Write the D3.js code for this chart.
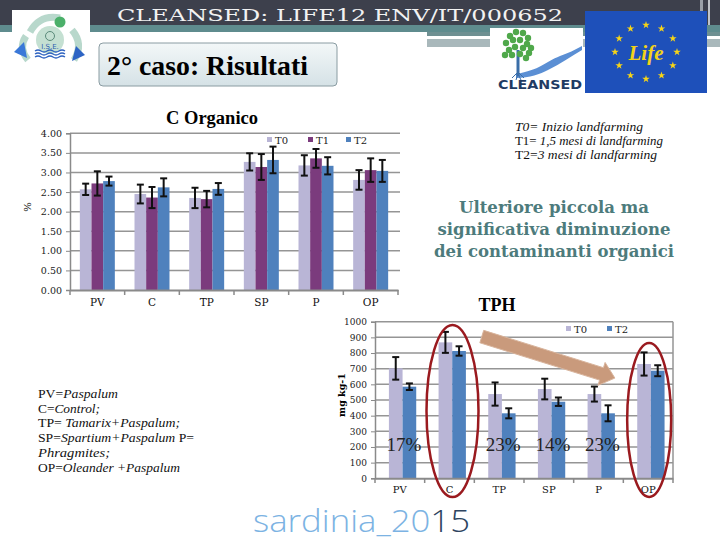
<!DOCTYPE html>
<html><head><meta charset="utf-8">
<script src="https://cdn.jsdelivr.net/npm/d3@7"></script>
<style>body{margin:0;background:#fff}svg{display:block}</style>
</head><body>
<svg id="s" width="720" height="540"></svg>
<script>
// ---------- DATA ----------
const categories = ["PV","C","TP","SP","P","OP"];
const cSeries = ["T0","T1","T2"];
const cT0 = [2.57,2.45,2.35,3.27,3.18,2.81];
const cT1 = [2.72,2.36,2.32,3.14,3.36,3.06];
const cT2 = [2.78,2.62,2.58,3.32,3.17,3.04];
const cErrT0 = [0.145,0.24,0.26,0.22,0.26,0.25];
const cErrT1 = [0.31,0.27,0.21,0.33,0.24,0.30];
const cErrT2 = [0.115,0.23,0.15,0.34,0.22,0.28];
const cTicks = [0,0.5,1,1.5,2,2.5,3,3.5,4];

const tphSeries = ["T0","T2"];
const tphT0 = [702,868,538,570,538,730];
const tphT2 = [585,813,415,489,415,687];
const tphErrT0 = [72,67,74,66,48,74];
const tphErrT2 = [21,30,32,27,51,35];
const tphTicks = [0,100,200,300,400,500,600,700,800,900,1000];
const reductions = ["17%","","23%","14%","23%",""];

const colors = {T0:"#b9b5d6", T1:"#7b3b7d", T2:"#4f81bd"};

const svg = d3.select("#s");
const serif = "'DejaVu Serif', serif";
const times = "'Liberation Serif', serif";

// ---------- HEADER ----------
svg.append("rect").attr("x",0).attr("y",0).attr("width",720).attr("height",25).attr("fill","#3d404c");
svg.append("rect").attr("x",700).attr("y",0).attr("width",3).attr("height",30).attr("fill","#9aa0a8");
svg.append("rect").attr("x",708).attr("y",0).attr("width",2).attr("height",30).attr("fill","#c0c4ca");
svg.append("rect").attr("x",0).attr("y",25).attr("width",720).attr("height",7).attr("fill","#5f8c8e");
svg.append("rect").attr("x",427).attr("y",32).attr("width",293).attr("height",4).attr("fill","#6f9092");
svg.append("rect").attr("x",427).attr("y",39).attr("width",293).attr("height",8).attr("fill","#a9b8bb");
svg.append("text").attr("x",117).attr("y",21).attr("textLength",446).attr("lengthAdjust","spacingAndGlyphs")
  .attr("font-family",serif).attr("font-size",17).attr("fill","#f2f2f2").text("CLEANSED: LIFE12 ENV/IT/000652");

// ISE logo
const ise = svg.append("g");
ise.append("rect").attr("x",12).attr("y",10).attr("width",78).attr("height",55).attr("fill","#fff");
ise.append("path").attr("d","M30,32 Q40,14 60,18").attr("fill","none").attr("stroke","#b8d8cc").attr("stroke-width",7);
ise.append("path").attr("d","M72,30 Q84,44 74,60").attr("fill","none").attr("stroke","#b8d8cc").attr("stroke-width",7);
ise.append("path").attr("d","M28,60 Q18,48 26,36").attr("fill","none").attr("stroke","#b8d8cc").attr("stroke-width",7);
ise.append("circle").attr("cx",60).attr("cy",22).attr("r",5.5).attr("fill","#4bb06a");
ise.append("circle").attr("cx",50).attr("cy",40).attr("r",14).attr("fill","#c4e0d2");
ise.append("circle").attr("cx",50).attr("cy",36).attr("r",4.5).attr("fill","none").attr("stroke","#5a8a7a").attr("stroke-width",1);
ise.append("text").attr("x",50).attr("y",49).attr("text-anchor","middle").attr("font-family","DejaVu Sans").attr("font-size",7).attr("fill","#2f5fb0").text("I.S.E.");
[51,54,57].forEach(y=>ise.append("path").attr("d",`M35,${y} q3,-2 6,0 t6,0 t6,0 t6,0 t6,0`).attr("fill","none").attr("stroke","#2f63c0").attr("stroke-width",1.4));
ise.append("path").attr("d","M14,52 L24,42 L27,58 Z").attr("fill","#3a78d8");
ise.append("path").attr("d","M76,46 L85,55 L72,61 Z").attr("fill","#2d64c4");

// Title box
const g0 = svg.append("defs").append("linearGradient").attr("id","tb").attr("x1",0).attr("y1",0).attr("x2",0).attr("y2",1);
g0.append("stop").attr("offset","0").attr("stop-color","#f3f7f8");
g0.append("stop").attr("offset","1").attr("stop-color","#d5e2e6");
svg.append("rect").attr("x",99).attr("y",43).attr("width",238).attr("height",43).attr("rx",4)
  .attr("fill","url(#tb)").attr("stroke","#8a9ca2").attr("stroke-width",1);
svg.append("text").attr("x",107).attr("y",75).attr("textLength",201).attr("lengthAdjust","spacingAndGlyphs")
  .attr("font-family",times).attr("font-weight","bold").attr("font-size",28).attr("fill","#000").text("2° caso: Risultati");

// CleanSED logo
const cl = svg.append("g");
cl.append("rect").attr("x",490).attr("y",28).attr("width",93).attr("height",66).attr("fill","#fff");
cl.append("path").attr("d","M516,74 C540,70 545,62 560,56 C568,53 575,50 582,46 L582,50 C572,56 560,64 548,70 C540,74 530,78 516,78 Z").attr("fill","#5b8fd4");
cl.append("line").attr("x1",518).attr("y1",50).attr("x2",518).attr("y2",76).attr("stroke","#3a6ea8").attr("stroke-width",3);
cl.append("path").attr("d","M518,72 l-6,6 M518,72 l6,6 M518,74 l-2,6 M518,74 l3,6").attr("stroke","#3a6ea8").attr("stroke-width",1);
const leaf = [[510,36],[516,32],[523,33],[528,38],[506,43],[513,40],[520,40],[527,44],[531,48],[509,50],[515,47],[523,48],[529,53],[505,55],[512,55],[520,54],[526,58]];
leaf.forEach(p=>cl.append("circle").attr("cx",p[0]).attr("cy",p[1]).attr("r",3.2).attr("fill","#4fa84a"));
cl.append("text").attr("x",498).attr("y",89).attr("textLength",84).attr("lengthAdjust","spacingAndGlyphs")
  .attr("font-family","'DejaVu Sans', sans-serif").attr("font-weight","bold").attr("font-size",13).attr("fill","#1f3b63").text("CLEANSED");

// EU Life flag
const eu = svg.append("g");
eu.append("rect").attr("x",585).attr("y",11).attr("width",122).attr("height",82).attr("fill","#1e50ba");
const star = d3.symbol(d3.symbolStar).size(18);
d3.range(12).forEach(i=>{
  const a = i/12*2*Math.PI;
  eu.append("path").attr("d",star).attr("fill","#f7d417")
    .attr("transform",`translate(${646+31*Math.sin(a)},${52-27*Math.cos(a)})`);
});
eu.append("text").attr("x",646).attr("y",60).attr("text-anchor","middle").attr("font-family",times)
  .attr("font-style","italic").attr("font-weight","bold").attr("font-size",21).attr("fill","#f2d21a").text("Life");

// ---------- C ORGANICO CHART ----------
const c = svg.append("g");
const xC = d3.scaleBand().domain(categories).range([70,398]);
const xC1 = d3.scaleBand().domain(cSeries).range([xC.bandwidth()*0.18, xC.bandwidth()*0.82]);
const yC = d3.scaleLinear().domain([0,4]).range([290,133.3]);
const cVals = {T0:cT0,T1:cT1,T2:cT2};
const cErr = {T0:cErrT0,T1:cErrT1,T2:cErrT2};

c.append("g").selectAll("line").data(cTicks.slice(1)).join("line")
  .attr("x1",70).attr("x2",400).attr("y1",d=>yC(d)).attr("y2",d=>yC(d))
  .attr("stroke","#959595").attr("stroke-width",1.5);

c.append("g").attr("transform","translate(70,0)")
  .call(d3.axisLeft(yC).tickValues(cTicks).tickFormat(d3.format(".2f")).tickSize(4).tickPadding(4))
  .call(g=>{g.select(".domain").attr("stroke","#8a8a8a").attr("stroke-width",1.5);
    g.selectAll(".tick line").attr("stroke","#8a8a8a");
    g.selectAll("text").attr("font-family",serif).attr("font-size",9.5).attr("fill","#222");});

cSeries.forEach(s=>{
  const data = categories.map((k,i)=>({k, v:cVals[s][i], e:cErr[s][i]}));
  c.append("g").selectAll("rect").data(data).join("rect")
    .attr("x",d=>xC(d.k)+xC1(s)).attr("width",xC1.bandwidth()).attr("y",d=>yC(d.v)).attr("height",d=>yC(0)-yC(d.v))
    .attr("fill",colors[s]);
  const eb = c.append("g").attr("stroke","#111").attr("stroke-width",2);
  data.forEach(d=>{
    const cx = xC(d.k)+xC1(s)+xC1.bandwidth()/2;
    eb.append("line").attr("x1",cx).attr("x2",cx).attr("y1",yC(d.v-d.e)).attr("y2",yC(d.v+d.e));
    eb.append("line").attr("x1",cx-3.5).attr("x2",cx+3.5).attr("y1",yC(d.v-d.e)).attr("y2",yC(d.v-d.e));
    eb.append("line").attr("x1",cx-3.5).attr("x2",cx+3.5).attr("y1",yC(d.v+d.e)).attr("y2",yC(d.v+d.e));
  });
});

c.append("g").attr("transform","translate(0,290)")
  .call(d3.axisBottom(xC).tickSize(0).tickPadding(9))
  .call(g=>{g.select(".domain").attr("stroke","#8a8a8a").attr("stroke-width",2);
    g.selectAll("text").attr("font-family",serif).attr("font-size",10.5).attr("fill","#111");});
c.append("g").selectAll("line").data(d3.range(categories.length+1)).join("line")
  .attr("x1",i=>70+i*xC.step()).attr("x2",i=>70+i*xC.step()).attr("y1",290).attr("y2",295)
  .attr("stroke","#8a8a8a").attr("stroke-width",1.5);

c.append("text").attr("x",212).attr("y",124).attr("text-anchor","middle").attr("font-family",times)
  .attr("font-weight","bold").attr("font-size",18.5).text("C Organico");
c.append("text").attr("transform","translate(31,207) rotate(-90)").attr("text-anchor","middle")
  .attr("font-family",serif).attr("font-size",10).text("%");

const legC = c.append("g");
cSeries.forEach((s,i)=>{
  const lx = [267,308,346][i];
  legC.append("rect").attr("x",lx).attr("y",137).attr("width",5).attr("height",5).attr("fill",colors[s]);
  legC.append("text").attr("x",lx+8).attr("y",144).attr("font-family",serif).attr("font-size",10).attr("fill","#222").text(s);
});

// ---------- TPH CHART ----------
const t = svg.append("g");
const xT = d3.scaleBand().domain(categories).range([375,673]);
const xT1 = d3.scaleBand().domain(tphSeries).range([xT.bandwidth()*0.28, xT.bandwidth()*0.83]);
const yT = d3.scaleLinear().domain([0,1000]).range([478.3,321.7]);
const tVals = {T0:tphT0,T2:tphT2};
const tErr = {T0:tphErrT0,T2:tphErrT2};

t.append("g").selectAll("line").data(tphTicks.slice(1)).join("line")
  .attr("x1",375).attr("x2",673).attr("y1",d=>yT(d)).attr("y2",d=>yT(d))
  .attr("stroke","#959595").attr("stroke-width",1.5);
t.append("line").attr("x1",673).attr("x2",673).attr("y1",yT(1000)).attr("y2",yT(0)).attr("stroke","#959595").attr("stroke-width",1.5);

t.append("g").attr("transform","translate(375,0)")
  .call(d3.axisLeft(yT).tickValues(tphTicks).tickFormat(d3.format("d")).tickSize(4).tickPadding(4))
  .call(g=>{g.select(".domain").attr("stroke","#8a8a8a").attr("stroke-width",1.5);
    g.selectAll(".tick line").attr("stroke","#8a8a8a");
    g.selectAll("text").attr("font-family",serif).attr("font-size",9).attr("fill","#222");});

tphSeries.forEach(s=>{
  const data = categories.map((k,i)=>({k, v:tVals[s][i], e:tErr[s][i]}));
  t.append("g").selectAll("rect").data(data).join("rect")
    .attr("x",d=>xT(d.k)+xT1(s)).attr("width",xT1.bandwidth()).attr("y",d=>yT(d.v)).attr("height",d=>yT(0)-yT(d.v))
    .attr("fill",colors[s]);
  const eb = t.append("g").attr("stroke","#111").attr("stroke-width",2);
  data.forEach(d=>{
    const cx = xT(d.k)+xT1(s)+xT1.bandwidth()/2;
    eb.append("line").attr("x1",cx).attr("x2",cx).attr("y1",yT(d.v-d.e)).attr("y2",yT(d.v+d.e));
    eb.append("line").attr("x1",cx-3.5).attr("x2",cx+3.5).attr("y1",yT(d.v-d.e)).attr("y2",yT(d.v-d.e));
    eb.append("line").attr("x1",cx-3.5).attr("x2",cx+3.5).attr("y1",yT(d.v+d.e)).attr("y2",yT(d.v+d.e));
  });
});

t.append("g").attr("transform","translate(0,478.3)")
  .call(d3.axisBottom(xT).tickSize(0).tickPadding(8))
  .call(g=>{g.select(".domain").attr("stroke","#8a8a8a").attr("stroke-width",2);
    g.selectAll("text").attr("font-family",serif).attr("font-size",10).attr("fill","#111");});
t.append("g").selectAll("line").data(d3.range(categories.length+1)).join("line")
  .attr("x1",i=>375+i*xT.step()).attr("x2",i=>375+i*xT.step()).attr("y1",478.3).attr("y2",483)
  .attr("stroke","#8a8a8a").attr("stroke-width",1.5);

t.append("text").attr("x",497).attr("y",311).attr("text-anchor","middle").attr("font-family",times)
  .attr("font-weight","bold").attr("font-size",18).text("TPH");
t.append("text").attr("transform","translate(345,395) rotate(-90)").attr("text-anchor","middle")
  .attr("font-family",serif).attr("font-weight","bold").attr("font-size",9.5).text("mg kg-1");

tphSeries.forEach((s,i)=>{
  const lx = [566,607][i];
  t.append("rect").attr("x",lx).attr("y",326).attr("width",5).attr("height",5).attr("fill",colors[s]);
  t.append("text").attr("x",lx+8).attr("y",333).attr("font-family",serif).attr("font-size",10).attr("fill","#222").text(s);
});

// reductions
t.append("g").selectAll("text").data(categories.map((k,i)=>({k,r:reductions[i]})).filter(d=>d.r)).join("text")
  .attr("x",d=>xT(d.k)+xT.bandwidth()/2+4).attr("y",yT(190)+2).attr("text-anchor","middle")
  .attr("font-family",times).attr("font-size",19).attr("fill","#222").text(d=>d.r);

// ellipses
t.append("ellipse").attr("cx",xT("C")+xT.bandwidth()/2+3).attr("cy",411).attr("rx",26).attr("ry",86)
  .attr("fill","none").attr("stroke","#9a1a1f").attr("stroke-width",2.5);
t.append("ellipse").attr("cx",xT("OP")+xT.bandwidth()/2+1).attr("cy",420).attr("rx",22).attr("ry",77)
  .attr("fill","none").attr("stroke","#9a1a1f").attr("stroke-width",2.5);

// arrow
(function(){
  const x0 = xT("TP")+xT.bandwidth()*0.15, y0 = yT(905);
  const x1 = xT("OP")-xT.bandwidth()*0.17, y1 = yT(640);
  const dx = x1-x0, dy = y1-y0, L = Math.hypot(dx,dy), ux=dx/L, uy=dy/L, nx=-uy, ny=ux;
  const hw=6.5, hh=12, hl=14;
  const bx = x1-ux*hl, by = y1-uy*hl;
  const pts = [[x0+nx*hw,y0+ny*hw],[bx+nx*hw,by+ny*hw],[bx+nx*hh,by+ny*hh],[x1,y1],[bx-nx*hh,by-ny*hh],[bx-nx*hw,by-ny*hw],[x0-nx*hw,y0-ny*hw]];
  t.append("path").attr("d","M"+pts.map(p=>p.join(",")).join("L")+"Z").attr("fill","#c99a7c").attr("stroke","#d8b49c").attr("stroke-width",1);
})();

// ---------- TEXT BLOCKS ----------
const tx = svg.append("g").attr("font-family",times).attr("font-size",12.5).attr("fill","#111");
const l1 = tx.append("text").attr("x",515).attr("y",131).attr("textLength",128).attr("lengthAdjust","spacingAndGlyphs");
l1.append("tspan").attr("font-style","italic").text("T0=  Inizio landfarming");
const l2 = tx.append("text").attr("x",515).attr("y",145).attr("textLength",148).attr("lengthAdjust","spacingAndGlyphs");
l2.append("tspan").text("T1= ");
l2.append("tspan").attr("font-style","italic").text("1,5 mesi di landfarming");
const l3 = tx.append("text").attr("x",515).attr("y",159).attr("textLength",142).attr("lengthAdjust","spacingAndGlyphs");
l3.append("tspan").text("T2=");
l3.append("tspan").attr("font-style","italic").text("3 mesi di landfarming");

const msg = [["Ulteriore piccola ma",190,213],["significativa diminuzione",233,235],["dei contaminanti organici",240,257]];
svg.append("g").selectAll("text").data(msg).join("text")
  .attr("x",554).attr("y",d=>d[2]).attr("text-anchor","middle").attr("textLength",d=>d[1]).attr("lengthAdjust","spacingAndGlyphs")
  .attr("font-family",serif).attr("font-weight","bold").attr("font-size",16.5).attr("fill","#4d7b7c").text(d=>d[0]);

const abbr = [
  [["PV=",0],["Paspalum",1]],
  [["C=",0],["Control;",1]],
  [["TP= ",0],["Tamarix+Paspalum;",1]],
  [["SP=",0],["Spartium+Paspalum",1],[" P=",0]],
  [["Phragmites;",1]],
  [["OP=",0],["Oleander +Paspalum",1]]
];
const abW = [80,62,142,156,72,142];
abbr.forEach((parts,i)=>{
  const te = svg.append("text").attr("x",38).attr("y",398+i*14.7).attr("font-family",times).attr("font-size",12.5).attr("fill","#111")
    .attr("textLength",abW[i]).attr("lengthAdjust","spacingAndGlyphs");
  parts.forEach(p=>te.append("tspan").attr("font-style",p[1]?"italic":"normal").text(p[0]));
});

// footer
const ft = svg.append("text").attr("x",253).attr("y",532).attr("textLength",217).attr("lengthAdjust","spacingAndGlyphs")
  .attr("font-family","'Open Sans', sans-serif").attr("font-weight",300).attr("font-size",31);
ft.append("tspan").attr("fill","#7cb3e3").text("sardinia_20");
ft.append("tspan").attr("fill","#2e4460").text("15");
</script>
</body></html>
